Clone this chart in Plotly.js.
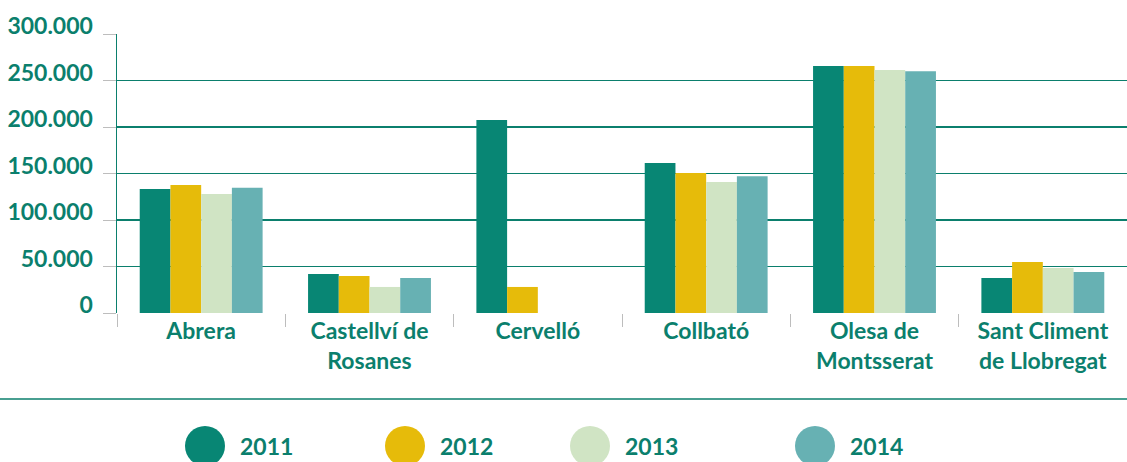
<!DOCTYPE html>
<html>
<head>
<meta charset="utf-8">
<script src="https://cdn.plot.ly/plotly-3.0.1.min.js"></script>
<style>html,body{margin:0;padding:0;background:#fff;}#chart{width:1127px;height:462px;}</style>
</head>
<body>
<div id="chart"></div>
<script>
const categories = ["Abrera", "Castellví de<br>Rosanes", "Cervelló", "Collbató", "Olesa de<br>Montsserat", "Sant Climent<br>de Llobregat"];
const years = ["2011", "2012", "2013", "2014"];
const v2011 = [133300, 41900, 207500, 161300, 265600, 37600];
const v2012 = [137600, 39800, 28000, 150500, 265600, 54800];
const v2013 = [128000, 28000, 0, 140900, 261300, 48400];
const v2014 = [134700, 37600, 0, 147000, 259900, 44100];
const yTicks = [0, 50000, 100000, 150000, 200000, 250000, 300000];

const colors = ["#088674", "#e6bb0a", "#d0e4c4", "#67b1b3"];
const teal = "#0b7f6d";
const series = [v2011, v2012, v2013, v2014];

const W = 1127, H = 462;
const M = {l: 117, r: 0, t: 34, b: 149};
const PW = W - M.l - M.r, PH = H - M.t - M.b;
const px2x = p => (p - M.l) / PW;
const py2y = p => (H - M.b - p) / PH;

const font = "Lato, 'Open Sans', sans-serif";
const fs = 23;

const traces = series.map((vals, i) => ({
  type: "bar",
  name: years[i],
  x: categories,
  y: vals,
  marker: {color: colors[i], line: {width: 0}},
  showlegend: false,
  hoverinfo: "skip"
}));

// custom legend (circles + labels)
const legCx = [205, 405, 590, 815];
const legCy = 446;
const shapes = [{
  type: "line", xref: "paper", yref: "paper",
  x0: px2x(0), x1: px2x(W), y0: py2y(399), y1: py2y(399),
  line: {color: teal, width: 1.5}
}];
const annotations = [];
years.forEach((yr, i) => {
  shapes.push({
    type: "circle", xref: "paper", yref: "paper",
    xsizemode: "pixel", ysizemode: "pixel",
    xanchor: px2x(legCx[i]), yanchor: py2y(legCy),
    x0: -20, x1: 20, y0: -20, y1: 20,
    fillcolor: colors[i], line: {width: 0}
  });
  annotations.push({
    xref: "paper", yref: "paper",
    x: px2x(legCx[i] + 33), y: py2y(legCy),
    xanchor: "left", yanchor: "middle",
    text: "<b>" + yr + "</b>", showarrow: false,
    font: {family: font, size: fs, color: teal}
  });
});

const layout = {
  width: W, height: H,
  margin: M,
  paper_bgcolor: "#fff", plot_bgcolor: "#fff",
  separators: ",.",
  barmode: "group",
  bargap: 0.27,
  bargroupgap: 0,
  showlegend: false,
  font: {family: font, color: teal},
  xaxis: {
    type: "category",
    tickson: "boundaries",
    ticks: "outside", ticklen: 13, tickcolor: "#bdbdbd", tickwidth: 1,
    ticklabelstandoff: 2,
    showgrid: false, showline: false, zeroline: false,
    tickfont: {family: font, size: fs, color: teal, weight: "bold"},
    fixedrange: true
  },
  yaxis: {
    range: [0, 300000],
    tickvals: yTicks,
    tickformat: ",d",
    ticks: "outside", ticklen: 13, tickcolor: "#bdbdbd", tickwidth: 1,
    ticklabelposition: "outside",
    ticklabelstandoff: 5,
    ticklabelshift: -8,
    showgrid: true, gridcolor: teal, gridwidth: 1.3,
    showline: true, linecolor: teal, linewidth: 1.5,
    zeroline: false,
    tickfont: {family: font, size: fs, color: teal, weight: "bold"},
    fixedrange: true
  },
  shapes: shapes,
  annotations: annotations
};

Plotly.newPlot("chart", traces, layout, {displayModeBar: false, staticPlot: true});
</script>
</body>
</html>
